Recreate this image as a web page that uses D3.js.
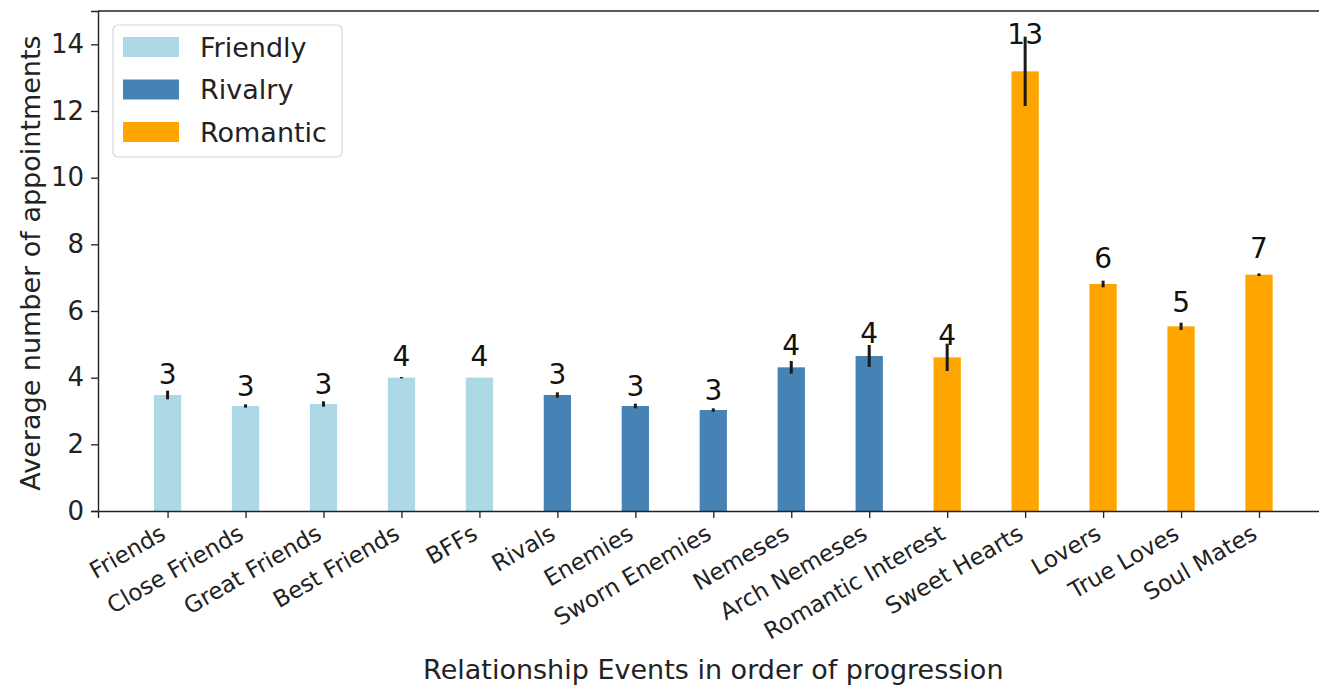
<!DOCTYPE html>
<html>
<head>
<meta charset="utf-8">
<script src="https://cdn.jsdelivr.net/npm/d3@7"></script>
<style>
    html, body { margin: 0; padding: 0; background: #fff; }
    svg { display: block; font-family: "DejaVu Sans", sans-serif; }
</style>
</head>
<body>
<svg id="chart" width="1319" height="685"></svg>
<script>
// === DATA ======================================================

const events = ["Friends", "Close Friends", "Great Friends", "Best Friends", "BFFs",
    "Rivals", "Enemies", "Sworn Enemies", "Nemeses", "Arch Nemeses",
    "Romantic Interest", "Sweet Hearts", "Lovers", "True Loves", "Soul Mates"];
const groups = ["Friendly", "Friendly", "Friendly", "Friendly", "Friendly",
    "Rivalry", "Rivalry", "Rivalry", "Rivalry", "Rivalry",
    "Romantic", "Romantic", "Romantic", "Romantic", "Romantic"];
const averages = [3.48, 3.15, 3.21, 4.0, 4.0, 3.48, 3.15, 3.03, 4.31, 4.65, 4.61, 13.19, 6.81, 5.54, 7.09];
const errors = [0.13, 0.05, 0.08, 0.02, 0.0, 0.08, 0.07, 0.05, 0.19, 0.33, 0.41, 1.04, 0.1, 0.11, 0.04];
const groupNames = ["Friendly", "Rivalry", "Romantic"];
const groupColors = ["lightblue", "steelblue", "orange"];
const yTicks = [0, 2, 4, 6, 8, 10, 12, 14];

// === SETUP =====================================================

const svg = d3.select("#chart");
const barWidth = 0.35;

const x = d3.scaleLinear().domain([-0.8925, 14.8925]).range([98, 1328.6]);
const y = d3.scaleLinear().domain([0, 15]).range([511, 11]);
const color = d3.scaleOrdinal().domain(groupNames).range(groupColors);

const data = events.map((name, i) => ({ name, i, group: groups[i], value: averages[i], err: errors[i] }));

// === BARS ======================================================

svg.append("g")
    .selectAll("rect")
    .data(data)
    .enter()
    .append("rect")
    .attr("x", d => x(d.i - barWidth / 2))
    .attr("width", x(barWidth) - x(0))
    .attr("y", d => y(d.value))
    .attr("height", d => y(0) - y(d.value))
    .attr("fill", d => color(d.group));

// error bars
svg.append("g")
    .selectAll("line")
    .data(data)
    .enter()
    .append("line")
    .attr("x1", d => x(d.i))
    .attr("x2", d => x(d.i))
    .attr("y1", d => y(d.value - d.err))
    .attr("y2", d => y(d.value + d.err))
    .attr("stroke", "#1a1a1a")
    .attr("stroke-width", 3);

// value labels (truncated like int())
svg.append("g")
    .selectAll("text")
    .data(data)
    .enter()
    .append("text")
    .attr("x", d => x(d.i))
    .attr("y", d => y(d.value * 1.05) - 5)
    .attr("text-anchor", "middle")
    .attr("font-size", 28)
    .attr("fill", "#111")
    .text(d => Math.floor(d.value));

// === AXES ======================================================

const xAxis = svg.append("g")
    .attr("transform", `translate(0,${y(0)})`)
    .call(d3.axisBottom(x).tickValues(d3.range(events.length)).tickSize(7).tickFormat(""));

const yAxis = svg.append("g")
    .attr("transform", `translate(${x.range()[0]},0)`)
    .call(d3.axisLeft(y).tickValues(yTicks).tickSize(7).tickPadding(7).tickFormat(d3.format("d")));

[xAxis, yAxis].forEach(a => {
    a.select(".domain").attr("stroke", "#222").attr("stroke-width", 1.4);
    a.selectAll(".tick line").attr("stroke", "#222").attr("stroke-width", 1.3);
});
yAxis.selectAll(".tick text").attr("font-size", 26).attr("fill", "#222")
    .attr("font-family", "DejaVu Sans");

// top spine
svg.append("line")
    .attr("x1", x.range()[0]).attr("x2", x.range()[1])
    .attr("y1", y(15)).attr("y2", y(15))
    .attr("stroke", "#222").attr("stroke-width", 1.4);

// rotated category labels
const angle = 30;
svg.append("g")
    .selectAll("text")
    .data(events)
    .enter()
    .append("text")
    .attr("transform", (d, i) => `translate(${x(i) - 9},${y(0) + 12}) rotate(${-angle})`)
    .attr("text-anchor", "end")
    .attr("dy", "0.75em")
    .attr("font-size", 23)
    .attr("fill", "#222")
    .text(d => d);

// axis titles
svg.append("text")
    .attr("x", (x.range()[0] + x.range()[1]) / 2)
    .attr("y", 679)
    .attr("text-anchor", "middle")
    .attr("font-size", 27)
    .attr("fill", "#222")
    .text("Relationship Events in order of progression");

svg.append("text")
    .attr("transform", `translate(40,${(y(0) + y(15)) / 2 + 2}) rotate(-90)`)
    .attr("text-anchor", "middle")
    .attr("font-size", 27)
    .attr("fill", "#222")
    .text("Average number of appointments");

// === LEGEND ====================================================

const legend = svg.append("g").attr("transform", "translate(113,25)");

legend.append("rect")
    .attr("width", 229).attr("height", 132).attr("rx", 5)
    .attr("fill", "#fff").attr("fill-opacity", 0.8)
    .attr("stroke", "#d6d6d6").attr("stroke-width", 1.2);

const item = legend.selectAll("g.item")
    .data(groupNames)
    .enter()
    .append("g")
    .attr("class", "item")
    .attr("transform", (d, i) => `translate(10,${22 + i * 42.5})`);

item.append("rect")
    .attr("y", -10).attr("width", 56).attr("height", 20)
    .attr("fill", d => color(d));

item.append("text")
    .attr("x", 77)
    .attr("dy", "0.36em")
    .attr("font-size", 27)
    .attr("fill", "#222")
    .text(d => d);
</script>
</body>
</html>
